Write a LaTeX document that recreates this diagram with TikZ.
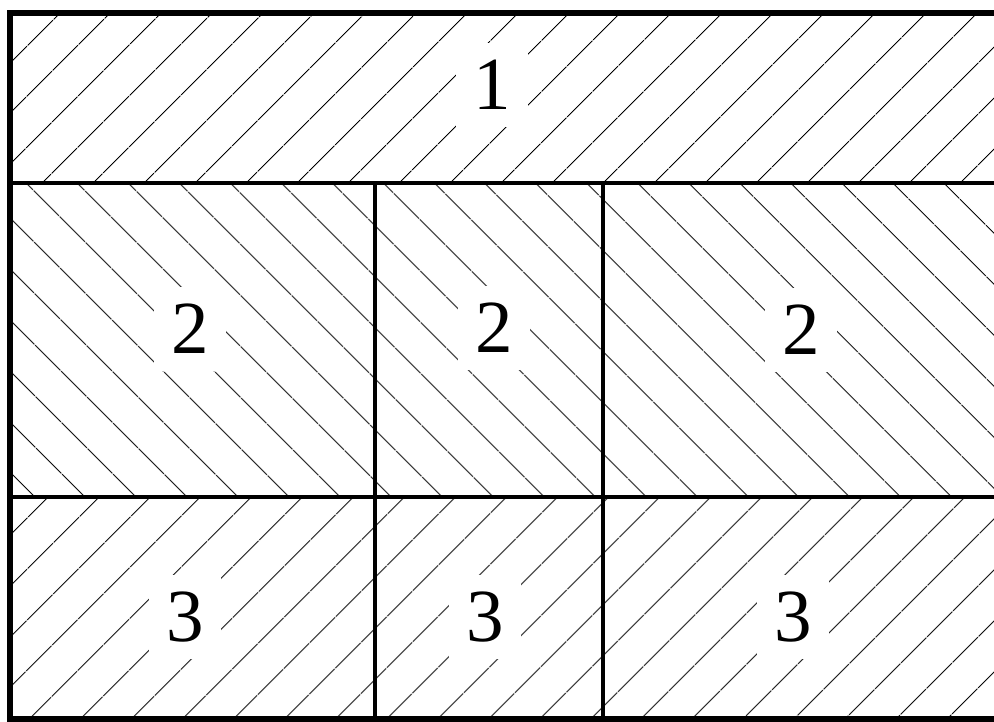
\documentclass[tikz,border=0pt]{standalone}
\usepackage{fontspec}
\setmainfont{Liberation Serif}
\usetikzlibrary{patterns.meta}

\begin{document}
\begin{tikzpicture}[
    x=1pt, y=-1pt,
    ne/.style={pattern={Lines[angle=45, distance=37pt, line width=1.1pt]}, pattern color=black},
    nw/.style={pattern={Lines[angle=-45, distance=37pt, line width=1.1pt]}, pattern color=black},
    num/.style={fill=white, inner sep=17pt, font=\fontsize{75}{80}\selectfont},
    frame/.style={line width=6.5pt},
    wall/.style={line width=3.5pt}
]
\useasboundingbox (0,0) rectangle (994,722);

% Layer 1
\fill[ne] (10,13) rectangle (994,183);
% Layer 2
\fill[nw] (10,183) rectangle (994,497);
% Layer 3
\fill[ne] (10,497) rectangle (994,719);

% Numbers
\node[num] (top) at (492,85) {1};

\node[num] (midA) at (190,329) {2};
\node[num] (midB) at (494,328) {2};
\node[num] (midC) at (801,330) {2};

\node[num] (botA) at (185,617) {3};
\node[num] (botB) at (485,617) {3};
\node[num] (botC) at (793,617) {3};

% Grid lines
\draw[wall] (10,183) -- (1000,183);
\draw[wall] (10,497) -- (1000,497);
\draw[wall] (375,183) -- (375,719);
\draw[wall] (603,183) -- (603,719);

% Frame
\draw[frame] (1000,13) -- (10,13) -- (10,719) -- (1000,719);

\end{tikzpicture}
\end{document}
